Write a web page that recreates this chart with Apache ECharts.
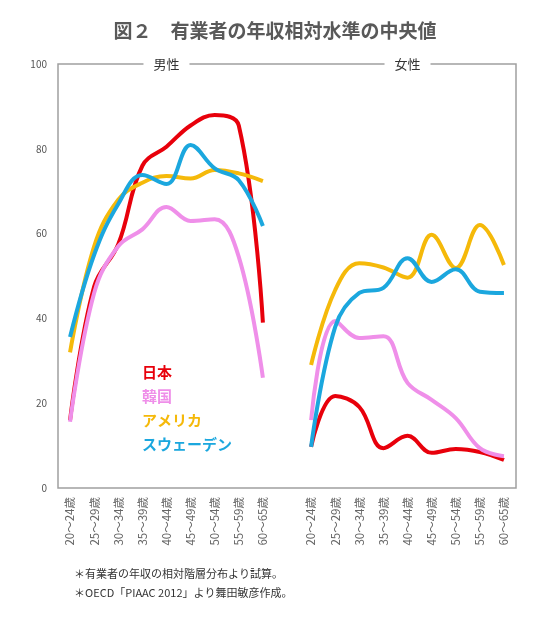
<!DOCTYPE html>
<html>
<head>
<meta charset="utf-8">
<script src="https://cdn.jsdelivr.net/npm/echarts@6/dist/echarts.min.js"></script>
<style>
  html, body { margin: 0; padding: 0; background: #fff; }
  #main { width: 550px; height: 619px; }
</style>
</head>
<body>
<div id="main"></div>
<script>
// 年齢階層（男性9 + 空白 + 女性9）
const ageGroups = ['20～24歳', '25～29歳', '30～34歳', '35～39歳', '40～44歳', '45～49歳', '50～54歳', '55～59歳', '60～65歳']
const categories = [...ageGroups, '', ...ageGroups]

// 男性
const japanMale = [16, 47.5, 57.5, 76, 80.5, 85.5, 88, 85.5, 39]
const koreaMale = [15.6, 46, 57, 61, 66.3, 63, 63.4, 54.5, 26]
const usaMale = [32, 57, 68, 72, 73.6, 73, 75, 74.2, 72.4]
const swedenMale = [35.6, 55, 67, 73.8, 71.7, 80.9, 75.4, 72.6, 61.8]

// 女性
const japanFemale = [9.7, 21.7, 19.1, 9.4, 12.3, 8.3, 9.2, 8.5, 6.6]
const koreaFemale = [16, 39.4, 35.4, 35.8, 24.8, 20.8, 16.5, 9.4, 7.5]
const usaFemale = [29, 46.7, 53, 52, 49.6, 59.7, 51.9, 62, 52.6]
const swedenFemale = [9.7, 38, 46, 47.2, 54.2, 48.6, 51.6, 46.3, 46]

const countries = ['日本', '韓国', 'アメリカ', 'スウェーデン']
const colors = ['#e8000b', '#ef8fe9', '#f5b90a', '#1ba7de']
const maleData = [japanMale, koreaMale, usaMale, swedenMale]
const femaleData = [japanFemale, koreaFemale, usaFemale, swedenFemale]

const yTicks = { min: 0, max: 100, interval: 20 }
const panelTitles = ['男性', '女性']
const notes = ['＊有業者の年収の相対階層分布より試算。', '＊OECD「PIAAC 2012」より舞田敏彦作成。']

const FONT = '"Noto Sans CJK JP", "Noto Sans", sans-serif'

const chart = echarts.init(document.getElementById('main'))
chart.setOption({
  animation: false,
  textStyle: { fontFamily: FONT },
  title: {
    text: '図２　有業者の年収相対水準の中央値',
    left: 'center',
    top: 16,
    textStyle: { fontSize: 19, fontWeight: 'bold', color: '#595959', fontFamily: FONT }
  },
  legend: {
    orient: 'vertical',
    left: 132,
    top: 360,
    icon: 'none',
    itemWidth: 0,
    itemHeight: 15,
    itemGap: 9,
    selectedMode: false,
    data: countries.map((name, i) => ({
      name: name,
      textStyle: { color: colors[i], fontSize: 15, fontWeight: 'bold', fontFamily: FONT }
    }))
  },
  grid: {
    left: 58,
    right: 34,
    top: 64,
    bottom: 131,
    show: true,
    borderColor: '#a0a0a0',
    borderWidth: 1.5,
    backgroundColor: 'transparent'
  },
  xAxis: {
    type: 'category',
    data: categories,
    boundaryGap: true,
    axisLine: { show: false },
    axisTick: { show: false },
    axisLabel: {
      interval: 0,
      rotate: 90,
      margin: 9,
      fontSize: 11.5,
      color: '#666',
      fontFamily: FONT
    },
    splitLine: { show: false }
  },
  yAxis: {
    type: 'value',
    min: yTicks.min,
    max: yTicks.max,
    interval: yTicks.interval,
    axisLine: { show: false },
    axisTick: { show: false },
    splitLine: { show: false },
    axisLabel: { fontSize: 10, color: '#555', margin: 11, fontFamily: FONT }
  },
  series: countries.map((name, i) => ({
    name: name,
    type: 'line',
    smooth: 0.4,
    showSymbol: false,
    symbol: 'none',
    connectNulls: false,
    lineStyle: { width: 4, color: colors[i] },
    itemStyle: { color: colors[i] },
    data: [...maleData[i], null, ...femaleData[i]]
  }))
})

// 枠上の「男性」「女性」ラベルと注記
const centers = [4, 14].map(idx => chart.convertToPixel({ xAxisIndex: 0 }, idx))
const topY = chart.convertToPixel({ yAxisIndex: 0 }, yTicks.max)
chart.setOption({
  graphic: [
    ...panelTitles.map((t, i) => ({
      type: 'text',
      x: centers[i],
      y: topY,
      style: {
        text: t,
        fill: '#333',
        font: '13px ' + FONT,
        align: 'center',
        verticalAlign: 'middle',
        backgroundColor: '#fff',
        padding: [2, 10]
      },
      z: 100
    })),
    ...notes.map((t, i) => ({
      type: 'text',
      left: 74,
      top: 568 + i * 19,
      style: { text: t, fill: '#333', font: '11px ' + FONT }
    }))
  ]
})
</script>
</body>
</html>
